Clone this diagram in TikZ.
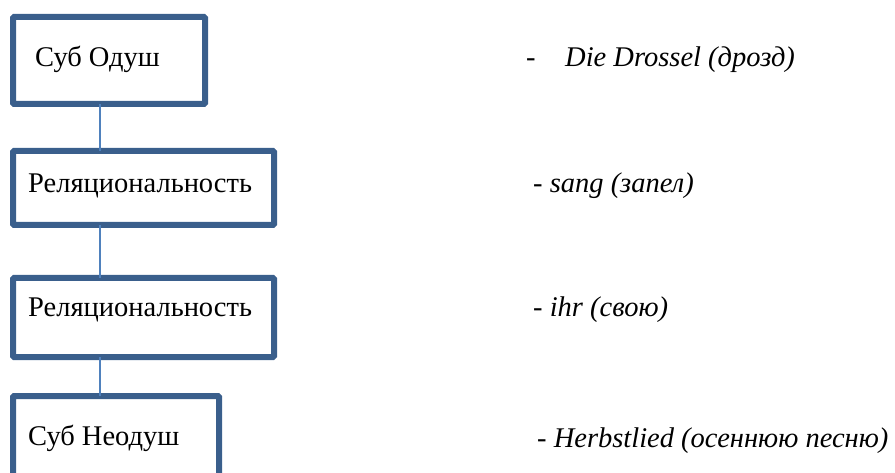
\documentclass[tikz,border=0pt]{standalone}
\usepackage{fontspec}
\setmainfont{Liberation Serif}
\begin{document}
\begin{tikzpicture}[x=1pt,y=-1pt,
  box/.style={draw=boxblue,line width=6pt,rounded corners=1pt,inner sep=0pt,outer sep=0pt},
  lbl/.style={inner sep=0pt,anchor=base west,font=\fontsize{28.5}{34}\selectfont},
  gloss/.style={inner sep=0pt,anchor=base west,font=\fontsize{28.5}{34}\selectfont\itshape},
  link/.style={draw=linkblue,line width=1.5pt}]
\definecolor{boxblue}{HTML}{3A5F8C}
\definecolor{linkblue}{HTML}{4F81BD}
\clip (0,0) rectangle (895,473);
\useasboundingbox (0,0) rectangle (895,473);
% boxes (centre of border line)
\node[box,minimum width=192pt,minimum height=87pt] (b1) at (109,60.5) {};
\node[box,minimum width=261pt,minimum height=74pt] (b2) at (143.5,188) {};
\node[box,minimum width=261pt,minimum height=79pt] (b3) at (143.5,317.5) {};
\node[box,minimum width=206pt,minimum height=90pt] (b4) at (116,441) {};
% labels in boxes
\node[lbl] (t1) at (35,67) {Суб Одуш};
\node[lbl] (t2) at (28,193) {Реляциональность};
\node[lbl] (t3) at (28,317) {Реляциональность};
\node[lbl] (t4) at (28,445) {Суб Неодуш};
% connectors
\coordinate (cx) at (100,0);
\draw[link] (b1.south -| cx) -- (b2.north -| cx);
\draw[link] (b2.south -| cx) -- (b3.north -| cx);
\draw[link] (b3.south -| cx) -- (b4.north -| cx);
% glosses
\node[lbl] (d1) at (526,67) {-};
\node[gloss] (g1) at (565,67) {Die Drossel (дрозд)};
\node[gloss] (g2) at (533,193) {{\upshape-} sang (запел)};
\node[gloss] (g3) at (533,317) {{\upshape-} ihr (свою)};
\node[gloss] (g4) at (537,447) {{\upshape-} Herbstlied (осеннюю песню)};
\end{tikzpicture}
\end{document}
